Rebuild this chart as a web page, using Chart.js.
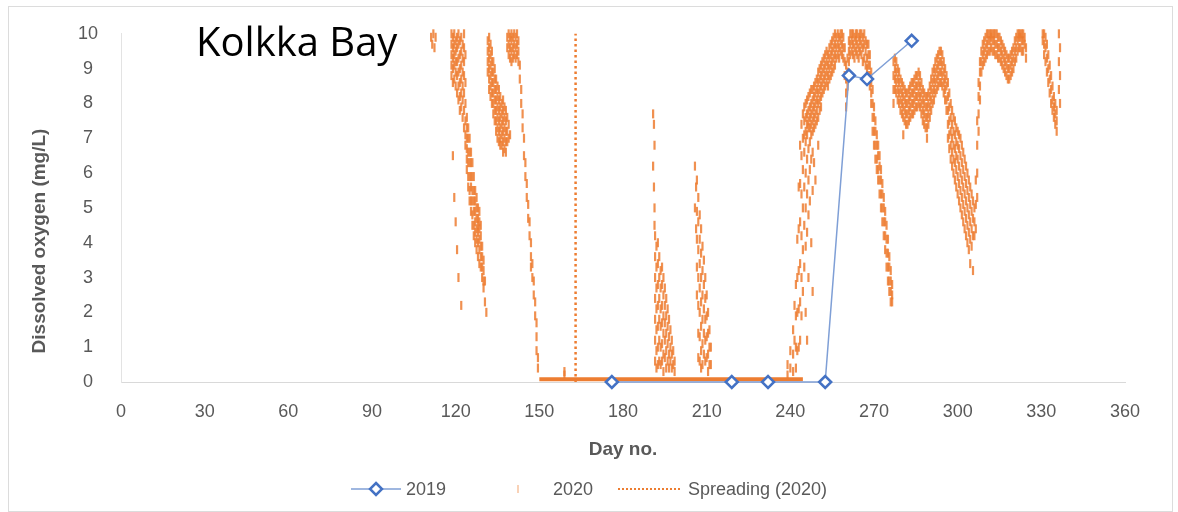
<!DOCTYPE html>
<html lang="en">
  <head>
    <meta charset="UTF-8" />
    <title>Kolkka Bay</title>
    <script src="https://cdn.jsdelivr.net/npm/chart.js"></script>
    <style>
      body {
        margin: 0;
        background: #ffffff;
      }
      #moldura {
        position: absolute;
        left: 8px;
        top: 6px;
        width: 1163px;
        height: 504px;
        border: 1px solid #dcdcdc;
      }
      canvas {
        position: absolute;
        left: 0;
        top: 0;
      }
    </style>
  </head>
  <body>
    <div id="moldura"></div>
    <canvas id="grafico" width="1178" height="512"></canvas>
  </body>
</html>

<script>
  // textos
  const titulo = 'Kolkka Bay'
  const tituloX = 'Day no.'
  const tituloY = 'Dissolved oxygen (mg/L)'

  // ticks dos eixos
  const ticksDias = [0, 30, 60, 90, 120, 150, 180, 210, 240, 270, 300, 330, 360]
  const ticksOxigenio = [0, 1, 2, 3, 4, 5, 6, 7, 8, 9, 10]

  // 2019 - amostras pontuais
  const dias2019 = [176, 219, 232, 252.5, 261, 267.5, 283.5]
  const oxigenio2019 = [0, 0, 0, 0, 8.8, 8.7, 9.8]

  // dia do espalhamento (2020)
  const diaSpreading = 163

  // 2020 - periodo anoxico no fundo (quase zero)
  const diasAnoxia = [150, 244.5]
  const oxigenioAnoxia = [0.08, 0.08]

  // 2020 - sensor continuo, cada linha: [dia, leituras...]
  const primavera2020 = [
    [111.2, 9.9], [111.6, 9.7], [112.0, 10.0], [112.4, 9.6], [112.8, 9.9],
    [118.5, 10.0, 9.7, 9.4, 9.1, 8.8],
    [119.0, 9.9, 9.6, 9.3, 9.0, 8.6, 6.5],
    [119.5, 10.0, 9.7, 9.4, 9.1, 8.7, 5.3],
    [120.0, 9.8, 9.5, 9.2, 8.9, 8.5, 4.6],
    [120.5, 9.9, 9.6, 9.2, 8.8, 8.3, 3.8],
    [121.0, 10.0, 9.7, 9.3, 8.9, 8.5, 8.1, 3.0],
    [121.5, 9.8, 9.4, 9.0, 8.6, 8.2, 7.8],
    [122.0, 9.9, 9.5, 9.1, 8.7, 8.3, 7.9, 2.2],
    [122.5, 9.7, 9.3, 8.9, 8.5, 8.1, 7.6],
    [123.0, 10.0, 9.6, 9.2, 8.8, 8.3, 7.8, 7.3],
    [123.5, 9.4, 8.6, 8.0, 7.5, 7.1, 6.8],
    [124.0, 7.6, 7.3, 7.0, 6.7, 6.4, 6.1],
    [124.5, 7.3, 7.0, 6.6, 6.3, 5.9, 5.6],
    [125.0, 7.0, 6.6, 6.3, 5.9, 5.5, 5.2],
    [125.5, 6.6, 6.3, 5.9, 5.6, 5.2, 4.9],
    [126.0, 6.3, 5.9, 5.5, 5.2, 4.8, 4.5],
    [126.5, 5.9, 5.5, 5.2, 4.9, 4.5, 4.2],
    [127.0, 5.5, 5.2, 4.9, 4.6, 4.3, 4.0],
    [127.5, 5.3, 5.0, 4.7, 4.4, 4.1, 3.8],
    [128.0, 5.0, 4.7, 4.5, 4.3, 4.0, 3.6],
    [128.5, 4.9, 4.6, 4.4, 4.1, 3.8, 3.4],
    [129.0, 4.5, 4.2, 3.9, 3.6, 3.3],
    [129.5, 3.9, 3.6, 3.3, 3.0],
    [130.0, 3.5, 3.2, 2.9, 2.7],
    [130.5, 2.9, 2.3],
    [131.0, 2.0],
    [131.5, 9.8, 9.5, 9.2, 8.9],
    [132.0, 9.9, 9.6, 9.3, 9.0, 8.7, 8.4],
    [132.5, 9.7, 9.4, 9.1, 8.8, 8.5, 8.2],
    [133.0, 9.5, 9.2, 8.9, 8.6, 8.3, 8.0],
    [133.5, 9.2, 8.9, 8.6, 8.3, 8.0, 7.7],
    [134.0, 9.0, 8.7, 8.4, 8.1, 7.8, 7.5],
    [134.5, 8.7, 8.4, 8.1, 7.8, 7.5, 7.2],
    [135.0, 8.5, 8.2, 7.9, 7.6, 7.3, 7.0],
    [135.5, 8.4, 8.1, 7.8, 7.5, 7.2, 6.9],
    [136.0, 8.2, 7.9, 7.6, 7.3, 7.0, 6.8],
    [136.5, 8.0, 7.7, 7.4, 7.1, 6.8],
    [137.0, 8.1, 7.8, 7.5, 7.2, 6.9, 6.6],
    [137.5, 7.9, 7.6, 7.3, 7.0, 6.7],
    [138.0, 7.8, 7.5, 7.2, 6.9, 6.6],
    [138.5, 9.9, 9.6, 7.6, 7.2, 6.9],
    [139.0, 10.0, 9.7, 9.4, 7.4, 7.0],
    [139.5, 9.9, 9.6, 9.3, 7.1],
    [140.0, 10.0, 9.8, 9.5, 9.2],
    [140.5, 9.9, 9.6, 9.3],
    [141.0, 10.0, 9.7, 9.4],
    [141.5, 9.9, 9.6, 9.3],
    [142.0, 10.0, 9.7, 9.4],
    [142.5, 9.8, 9.5, 9.2],
    [143.0, 9.1, 8.7],
    [143.5, 8.4, 8.0],
    [144.0, 7.7, 7.3],
    [144.5, 7.0, 6.5],
    [145.0, 6.3, 5.9],
    [145.5, 5.7, 5.3],
    [146.0, 5.1, 4.7],
    [146.5, 4.6, 4.2],
    [147.0, 4.0, 3.6, 3.3],
    [147.5, 3.4, 3.0],
    [148.0, 2.9, 2.5],
    [148.5, 2.3, 1.9],
    [149.0, 1.7, 1.3, 0.9],
    [149.5, 0.7, 0.4]
  ]

  const verao2020 = [
    [159.0, 0.3, 0.2],
    [190.8, 7.7, 6.2],
    [191.1, 7.4, 5.6],
    [191.3, 6.8, 5.0, 4.5],
    [191.5, 4.2, 3.6, 3.0, 2.4, 1.8, 1.2, 0.6],
    [192.0, 3.9, 3.3, 2.7, 2.1, 1.5, 0.9, 0.4],
    [192.5, 4.0, 3.4, 2.8, 2.2, 1.6, 1.0, 0.5],
    [193.0, 3.6, 3.0, 2.4, 1.8, 1.2, 0.6],
    [193.5, 3.2, 2.7, 2.1, 1.6, 1.0, 0.5],
    [194.0, 3.3, 2.8, 2.2, 1.7, 1.1, 0.6],
    [194.5, 3.0, 2.5, 1.9, 1.4, 0.8, 0.3],
    [195.0, 2.7, 2.2, 1.7, 1.2, 0.7],
    [195.5, 2.4, 1.9, 1.4, 0.9, 0.4],
    [196.0, 2.1, 1.6, 1.1, 0.6],
    [196.5, 1.8, 1.3, 0.8, 0.4],
    [197.0, 1.5, 1.0, 0.6],
    [197.5, 1.2, 0.8, 0.4],
    [198.0, 0.9, 0.5],
    [198.5, 0.6, 0.3],
    [205.8, 6.2, 5.0],
    [206.2, 5.6, 4.4],
    [206.5, 5.8, 4.9, 4.1, 3.3, 2.5],
    [207.0, 5.3, 4.6, 3.8, 3.0, 2.2, 1.4, 0.7],
    [207.5, 4.8, 4.1, 3.4, 2.7, 2.0, 1.3, 0.6],
    [208.0, 4.4, 3.7, 3.0, 2.3, 1.6, 0.9, 0.4],
    [208.5, 3.9, 3.2, 2.5, 1.8, 1.1, 0.5],
    [209.0, 3.5, 2.8, 2.1, 1.4, 0.8],
    [209.5, 3.0, 2.4, 1.8, 1.2, 0.6],
    [210.0, 2.5, 1.9, 1.3, 0.7],
    [210.5, 2.0, 1.4, 0.8, 0.3],
    [211.0, 1.5, 1.0, 0.5],
    [211.5, 1.0, 0.5]
  ]

  const outono2020 = [
    [239.0, 0.5, 0.2],
    [240.0, 0.9, 0.4],
    [241.0, 1.5, 0.8, 0.3],
    [241.5, 2.2, 1.2],
    [242.0, 2.8, 1.9, 1.0, 0.4],
    [242.5, 4.1, 3.0, 2.0, 0.9],
    [243.0, 5.6, 4.4, 3.2, 2.1, 1.0],
    [243.5, 6.8, 5.7, 4.6, 3.4, 2.3, 1.2],
    [244.0, 7.4, 6.5, 5.4, 4.2, 3.0, 1.9],
    [244.5, 7.7, 7.0, 6.1, 5.0, 3.8, 2.6],
    [245.0, 7.9, 7.5, 7.1, 6.6, 5.6, 4.5, 3.3],
    [245.5, 8.0, 7.6, 7.2, 6.9, 6.0, 5.0, 3.9, 2.0],
    [246.0, 8.1, 7.7, 7.4, 7.1, 6.4, 5.4, 4.3, 1.2],
    [246.5, 8.2, 7.8, 7.5, 7.3, 6.7, 5.8, 4.8, 3.0],
    [247.0, 8.3, 7.9, 7.6, 7.3, 6.9, 6.1, 5.2],
    [247.5, 8.4, 8.0, 7.7, 7.4, 7.1, 6.4, 4.0],
    [248.0, 8.4, 8.1, 7.8, 7.5, 7.2, 6.6, 5.5, 2.6],
    [248.5, 8.5, 8.2, 7.9, 7.6, 7.3, 6.3],
    [249.0, 8.6, 8.3, 8.0, 7.7, 7.4, 5.8],
    [249.5, 8.7, 8.4, 8.1, 7.8, 7.5],
    [250.0, 8.9, 8.6, 8.3, 8.0, 7.6, 6.8],
    [250.5, 9.0, 8.7, 8.4, 8.1, 7.8],
    [251.0, 9.1, 8.8, 8.5, 8.2, 7.9],
    [251.5, 9.2, 8.9, 8.6, 8.3],
    [252.0, 9.3, 9.0, 8.7, 8.4],
    [252.5, 9.4, 9.1, 8.8, 8.5],
    [253.0, 9.5, 9.2, 8.9, 8.6],
    [253.5, 9.4, 9.1, 8.8, 8.5],
    [254.0, 9.6, 9.3, 9.0, 8.7],
    [254.5, 9.7, 9.4, 9.1, 8.8],
    [255.0, 9.8, 9.5, 9.2, 8.9],
    [255.5, 9.9, 9.6, 9.3, 9.0],
    [256.0, 10.0, 9.7, 9.4, 9.1],
    [256.5, 9.9, 9.6, 9.3],
    [257.0, 10.0, 9.7, 9.4],
    [257.5, 9.9, 9.6, 9.3],
    [258.0, 10.0, 9.8, 9.5],
    [258.5, 10.0, 9.7, 9.4],
    [259.0, 9.9, 9.6, 9.3],
    [259.5, 9.6, 9.2, 8.8],
    [260.0, 9.1, 8.7, 8.3, 7.9],
    [260.5, 9.3, 8.9, 8.5],
    [261.0, 9.8, 9.5, 9.2],
    [261.5, 10.0, 9.7, 9.4],
    [262.0, 10.0, 9.8, 9.5],
    [262.5, 10.0, 9.7, 9.4],
    [263.0, 9.9, 9.6, 9.3],
    [263.5, 10.0, 9.8, 9.5],
    [264.0, 10.0, 9.7, 9.4],
    [264.5, 9.9, 9.6, 9.3],
    [265.0, 10.0, 9.8, 9.5],
    [265.5, 10.0, 9.7, 9.4],
    [266.0, 9.9, 9.6, 9.2],
    [266.5, 10.0, 9.7, 9.3],
    [267.0, 9.8, 9.5, 9.1],
    [267.5, 9.7, 9.3, 9.0],
    [268.0, 9.7, 9.4, 9.1, 8.8],
    [268.5, 9.4, 9.1, 8.8, 8.5],
    [269.0, 8.9, 8.6, 8.3, 8.0],
    [269.5, 8.4, 8.0, 7.6, 7.2],
    [270.0, 7.9, 7.6, 7.2, 6.8],
    [270.5, 7.5, 7.2, 6.8, 6.4],
    [271.0, 7.1, 6.8, 6.4, 6.1],
    [271.5, 6.8, 6.5, 6.1, 5.8],
    [272.0, 6.5, 6.2, 5.8, 5.4],
    [272.5, 6.1, 5.8, 5.4, 5.0],
    [273.0, 5.7, 5.4, 5.0, 4.6],
    [273.5, 5.3, 5.0, 4.6, 4.2],
    [274.0, 4.9, 4.6, 4.2, 3.8],
    [274.5, 4.5, 4.1, 3.7, 3.3],
    [275.0, 4.1, 3.7, 3.3, 2.9],
    [275.5, 3.6, 3.3, 2.9, 2.6],
    [276.0, 3.2, 2.9, 2.6, 2.3],
    [276.5, 2.8, 2.5, 2.3],
    [277.0, 9.2, 8.8, 8.4, 8.0],
    [277.5, 9.3, 9.0, 8.7, 8.4],
    [278.0, 9.2, 8.9, 8.6, 8.3],
    [278.5, 9.0, 8.7, 8.4, 8.1],
    [279.0, 8.9, 8.6, 8.3, 8.0],
    [279.5, 8.7, 8.4, 8.1, 7.8],
    [280.0, 8.6, 8.3, 8.0, 7.7],
    [280.5, 8.5, 8.2, 7.9, 7.6, 7.1],
    [281.0, 8.4, 8.1, 7.8, 7.5],
    [281.5, 8.3, 8.0, 7.7, 7.4],
    [282.0, 8.3, 8.0, 7.7, 7.4],
    [282.5, 8.4, 8.1, 7.8, 7.5],
    [283.0, 8.5, 8.2, 7.9, 7.6],
    [283.5, 8.6, 8.3, 8.0, 7.7],
    [284.0, 8.6, 8.3, 8.0, 7.7],
    [284.5, 8.7, 8.4, 8.1, 7.8],
    [285.0, 8.8, 8.5, 8.2, 7.9],
    [285.5, 8.8, 8.5, 8.2, 7.9],
    [286.0, 8.9, 8.6, 8.3, 8.0],
    [286.5, 8.8, 8.5, 8.2, 7.9],
    [287.0, 8.6, 8.3, 8.0, 7.7],
    [287.5, 8.4, 8.1, 7.8, 7.5],
    [288.0, 8.3, 8.0, 7.7, 7.4],
    [288.5, 8.2, 7.9, 7.6, 7.3],
    [289.0, 8.2, 7.9, 7.6, 7.3, 7.0],
    [289.5, 8.3, 8.0, 7.7, 7.4],
    [290.0, 8.5, 8.2, 7.9, 7.6],
    [290.5, 8.7, 8.4, 8.1, 7.8],
    [291.0, 8.9, 8.6, 8.3, 8.0],
    [291.5, 9.0, 8.7, 8.4, 8.1],
    [292.0, 9.2, 8.9, 8.6, 8.3],
    [292.5, 9.3, 9.0, 8.7, 8.4],
    [293.0, 9.4, 9.1, 8.8, 8.5],
    [293.5, 9.5, 9.2, 8.9, 8.6],
    [294.0, 9.5, 9.2, 8.9, 8.6],
    [294.5, 9.4, 9.1, 8.8, 8.5],
    [295.0, 9.2, 8.9, 8.6, 8.3],
    [295.5, 9.0, 8.7, 8.4, 8.1],
    [296.0, 8.8, 8.5, 8.1, 7.8],
    [296.5, 8.6, 8.2, 7.8, 7.4, 7.0],
    [297.0, 8.3, 7.9, 7.5, 7.1, 6.7],
    [297.5, 8.0, 7.6, 7.2, 6.8, 6.4],
    [298.0, 7.8, 7.4, 7.0, 6.6, 6.2],
    [298.5, 7.6, 7.2, 6.8, 6.4, 6.0],
    [299.0, 7.5, 7.1, 6.7, 6.3, 5.8],
    [299.5, 7.3, 6.9, 6.5, 6.1, 5.6],
    [300.0, 7.2, 6.8, 6.4, 5.9, 5.4],
    [300.5, 7.1, 6.7, 6.2, 5.7, 5.2],
    [301.0, 7.0, 6.5, 6.0, 5.5, 5.0],
    [301.5, 6.8, 6.3, 5.8, 5.3, 4.8],
    [302.0, 6.6, 6.1, 5.6, 5.1, 4.6],
    [302.5, 6.4, 5.9, 5.4, 4.9, 4.4],
    [303.0, 6.2, 5.7, 5.2, 4.7, 4.2],
    [303.5, 6.0, 5.5, 5.0, 4.5, 4.0],
    [304.0, 5.8, 5.3, 4.8, 4.3, 3.8],
    [304.5, 5.6, 5.1, 4.6, 4.1, 3.4],
    [305.0, 5.4, 4.9, 4.4, 3.9],
    [305.5, 5.2, 4.7, 4.2, 3.2],
    [306.0, 5.0, 4.6, 4.2],
    [306.5, 5.8, 5.1, 4.4],
    [307.0, 7.5, 6.8, 6.0, 5.3],
    [307.5, 8.6, 8.2, 7.7, 7.2],
    [308.0, 9.2, 8.9, 8.5, 8.1],
    [308.5, 9.5, 9.2, 8.9],
    [309.0, 9.7, 9.4, 9.1],
    [309.5, 9.8, 9.5, 9.2],
    [310.0, 9.9, 9.6, 9.3],
    [310.5, 10.0, 9.7, 9.4],
    [311.0, 10.0, 9.8, 9.5],
    [311.5, 10.0, 9.8, 9.5],
    [312.0, 10.0, 9.9, 9.6],
    [312.5, 10.0, 9.8, 9.5],
    [313.0, 10.0, 9.8, 9.5],
    [313.5, 10.0, 9.7, 9.4],
    [314.0, 10.0, 9.7, 9.4],
    [314.5, 9.9, 9.6, 9.3],
    [315.0, 9.9, 9.6, 9.3],
    [315.5, 9.8, 9.5, 9.2],
    [316.0, 9.7, 9.4, 9.1],
    [316.5, 9.6, 9.3, 9.0],
    [317.0, 9.5, 9.2, 8.9],
    [317.5, 9.4, 9.1, 8.8],
    [318.0, 9.3, 9.0, 8.7],
    [318.5, 9.3, 9.0, 8.7],
    [319.0, 9.4, 9.1, 8.8],
    [319.5, 9.5, 9.2, 8.9],
    [320.0, 9.6, 9.3, 9.0],
    [320.5, 9.8, 9.5, 9.2],
    [321.0, 9.9, 9.6, 9.3],
    [321.5, 10.0, 9.8, 9.5],
    [322.0, 10.0, 9.9, 9.6],
    [322.5, 10.0, 9.9, 9.6],
    [323.0, 10.0, 9.8, 9.5],
    [323.5, 10.0, 9.8, 9.5],
    [324.0, 9.9, 9.7],
    [324.5, 9.6, 9.3],
    [330.5, 10.0, 9.8],
    [331.0, 10.0, 9.7, 9.4],
    [331.5, 9.9, 9.6, 9.2],
    [332.0, 9.7, 9.3, 8.9],
    [332.5, 9.4, 9.0, 8.6],
    [333.0, 9.1, 8.7, 8.3],
    [333.5, 8.8, 8.4, 8.0],
    [334.0, 8.5, 8.1, 7.8],
    [334.5, 8.2, 7.9, 7.6],
    [335.0, 8.0, 7.7, 7.4],
    [335.5, 7.8, 7.5, 7.2],
    [336.3, 10.0, 9.2, 8.4],
    [336.7, 9.6, 8.8, 8.0]
  ]

  const laranja = '#ED7D31'
  const azul = '#4472C4'
  const cinzaTexto = '#595959'
  const fonte = '"Liberation Sans", Arial, sans-serif'

  // transforma as linhas [dia, leituras...] em pontos
  function montarPontos(linhas) {
    let pontos = []
    for (let i = 0; i < linhas.length; i++) {
      let linha = linhas[i]
      for (let j = 1; j < linha.length; j++) {
        pontos.push({ x: linha[0], y: linha[j] })
      }
    }
    return pontos
  }

  let pontos2020 = montarPontos(primavera2020)
    .concat(montarPontos(verao2020))
    .concat(montarPontos(outono2020))

  let pontos2019 = dias2019.map((d, i) => ({ x: d, y: oxigenio2019[i] }))
  let pontosAnoxia = diasAnoxia.map((d, i) => ({ x: d, y: oxigenioAnoxia[i] }))
  let pontosSpreading = [
    { x: diaSpreading, y: ticksOxigenio[0] },
    { x: diaSpreading, y: ticksOxigenio[ticksOxigenio.length - 1] }
  ]

  // titulo "Kolkka Bay" e titulo do eixo y
  const pluginTextos = {
    id: 'textos',
    afterDraw(chart) {
      const ctx = chart.ctx
      ctx.save()
      ctx.fillStyle = '#000000'
      ctx.font = '40px "Open Sans", sans-serif'
      ctx.textBaseline = 'alphabetic'
      ctx.textAlign = 'left'
      ctx.fillText(titulo, 196, 56)

      ctx.translate(40, 241)
      ctx.rotate(-Math.PI / 2)
      ctx.fillStyle = cinzaTexto
      ctx.font = 'bold 19px ' + fonte
      ctx.textAlign = 'center'
      ctx.textBaseline = 'middle'
      ctx.fillText(tituloY, 0, 0)
      ctx.restore()
    }
  }

  // legenda no estilo do excel
  const pluginLegenda = {
    id: 'legendaExcel',
    afterDraw(chart) {
      const ctx = chart.ctx
      const ds = chart.data.datasets
      const y = 489
      ctx.save()
      ctx.font = '18px ' + fonte
      ctx.fillStyle = cinzaTexto
      ctx.textBaseline = 'middle'
      ctx.textAlign = 'left'

      // 2019
      ctx.strokeStyle = ds[0].borderColor
      ctx.lineWidth = 1.5
      ctx.beginPath()
      ctx.moveTo(351, y)
      ctx.lineTo(401, y)
      ctx.stroke()
      ctx.beginPath()
      ctx.moveTo(376, y - 6)
      ctx.lineTo(382, y)
      ctx.lineTo(376, y + 6)
      ctx.lineTo(370, y)
      ctx.closePath()
      ctx.fillStyle = '#ffffff'
      ctx.fill()
      ctx.strokeStyle = ds[0].pointBorderColor
      ctx.lineWidth = 2.5
      ctx.stroke()
      ctx.fillStyle = cinzaTexto
      ctx.fillText(ds[0].label, 406, y + 1)

      // 2020
      ctx.globalAlpha = 0.35
      ctx.strokeStyle = laranja
      ctx.lineWidth = 2
      ctx.beginPath()
      ctx.moveTo(518, y - 4)
      ctx.lineTo(518, y + 4)
      ctx.stroke()
      ctx.globalAlpha = 1
      ctx.fillText(ds[3].label, 553, y + 1)

      // Spreading
      ctx.strokeStyle = laranja
      ctx.lineWidth = 2
      ctx.setLineDash([2, 2])
      ctx.beginPath()
      ctx.moveTo(618, y)
      ctx.lineTo(682, y)
      ctx.stroke()
      ctx.setLineDash([])
      ctx.fillText(ds[1].label, 688, y + 1)
      ctx.restore()
    }
  }

  const config = {
    type: 'scatter',
    data: {
      datasets: [
        {
          label: '2019',
          type: 'line',
          data: pontos2019,
          borderColor: '#7F9FD6',
          borderWidth: 1.5,
          pointStyle: 'rectRot',
          pointRadius: 6,
          pointBorderWidth: 2.5,
          pointBorderColor: azul,
          pointBackgroundColor: '#ffffff',
          tension: 0,
          clip: false
        },
        {
          label: 'Spreading (2020)',
          type: 'line',
          data: pontosSpreading,
          borderColor: laranja,
          borderWidth: 2.5,
          borderDash: [2.5, 3],
          pointRadius: 0,
          clip: false
        },
        {
          label: '2020 anoxia',
          type: 'line',
          data: pontosAnoxia,
          borderColor: laranja,
          borderWidth: 4,
          pointRadius: 0
        },
        {
          label: '2020',
          data: pontos2020,
          showLine: false,
          pointStyle: 'line',
          rotation: 90,
          pointRadius: 4.5,
          borderWidth: 2.2,
          borderColor: 'rgba(237, 125, 49, 0.85)',
          backgroundColor: 'rgba(237, 125, 49, 0.85)',
          clip: false
        }
      ]
    },
    options: {
      responsive: false,
      animation: false,
      events: [],
      layout: {
        padding: { left: 0, right: 53, top: 32, bottom: 48 }
      },
      plugins: {
        legend: { display: false },
        tooltip: { enabled: false }
      },
      scales: {
        x: {
          type: 'linear',
          min: ticksDias[0],
          max: ticksDias[ticksDias.length - 1],
          afterBuildTicks: (escala) => {
            escala.ticks = ticksDias.map((v) => ({ value: v }))
          },
          afterFit: (escala) => {
            escala.height = 82
          },
          grid: { display: false, drawTicks: false },
          border: { display: true, color: '#d9d9d9', width: 1 },
          ticks: {
            color: cinzaTexto,
            font: { family: fonte, size: 18 },
            padding: 19,
            maxRotation: 0
          },
          title: {
            display: true,
            text: tituloX,
            color: cinzaTexto,
            font: { family: fonte, size: 19, weight: 'bold' },
            padding: { top: 0, bottom: 3 }
          }
        },
        y: {
          type: 'linear',
          min: ticksOxigenio[0],
          max: ticksOxigenio[ticksOxigenio.length - 1],
          afterBuildTicks: (escala) => {
            escala.ticks = ticksOxigenio.map((v) => ({ value: v }))
          },
          afterFit: (escala) => {
            escala.width = 121
          },
          grid: { display: false, drawTicks: false },
          border: { display: true, color: '#e3e3e3', width: 1 },
          ticks: {
            color: cinzaTexto,
            font: { family: fonte, size: 18 },
            padding: 23,
            crossAlign: 'center'
          }
        }
      }
    },
    plugins: [pluginTextos, pluginLegenda]
  }

  let grafico = new Chart(document.getElementById('grafico'), config)
</script>
